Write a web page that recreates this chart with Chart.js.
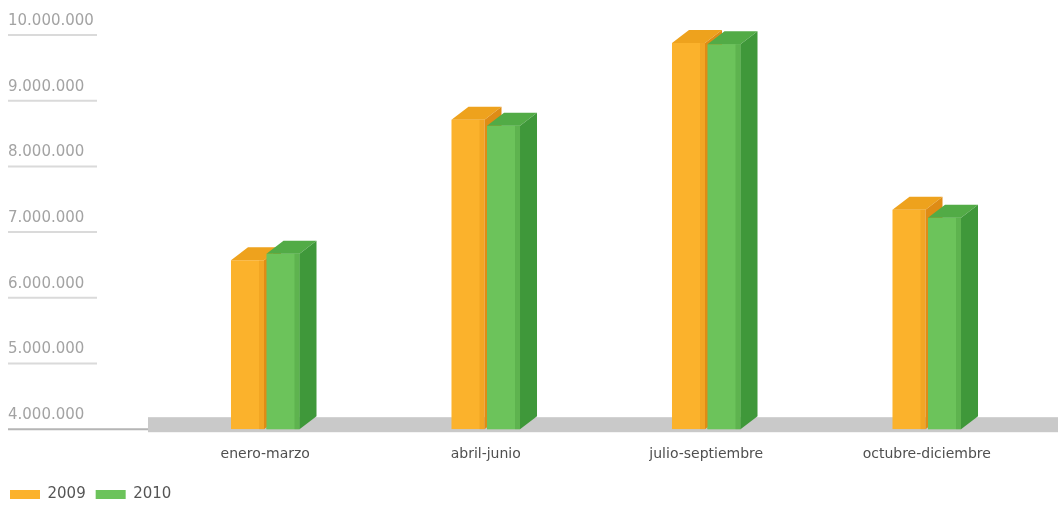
<!DOCTYPE html>
<html>
<head>
<meta charset="utf-8">
<script src="https://cdn.jsdelivr.net/npm/chart.js@4.4.0/dist/chart.umd.min.js"></script>
<style>
    html, body { margin: 0; padding: 0; background: #fff; }
    #wrap { width: 1058px; height: 507px; position: relative; }
</style>
</head>
<body>
<div id="wrap"><canvas id="chart"></canvas></div>
<script>
const categories = ['enero-marzo', 'abril-junio', 'julio-septiembre', 'octubre-diciembre'];
const seriesNames = ['2009', '2010'];
const values2009 = [6570000, 8710000, 9880000, 7340000];
const values2010 = [6670000, 8620000, 9860000, 7220000];
const yMin = 4000000;
const yMax = 10000000;
const yStep = 1000000;

// profundidad del efecto 3D
const DX = 17, DY = 13;

function fmt(v) {
    return String(v).replace(/\B(?=(\d{3})+(?!\d))/g, '.');
}

function drawFaces(ctx, ds, meta) {
    meta.data.forEach(bar => {
        const { x, y, base, width } = bar.getProps(['x', 'y', 'base', 'width'], true);
        const l = x - width / 2, r = x + width / 2;
        // sombra suave en el borde derecho del frente
        ctx.fillStyle = ds.edgeColor;
        ctx.fillRect(r - 5, y, 5, base - y);
        // cara superior
        ctx.fillStyle = ds.topColor;
        ctx.beginPath();
        ctx.moveTo(l, y);
        ctx.lineTo(l + DX, y - DY);
        ctx.lineTo(r + DX, y - DY);
        ctx.lineTo(r, y);
        ctx.closePath();
        ctx.fill();
        // cara lateral
        ctx.fillStyle = ds.sideColor;
        ctx.beginPath();
        ctx.moveTo(r, y);
        ctx.lineTo(r + DX, y - DY);
        ctx.lineTo(r + DX, base - DY);
        ctx.lineTo(r, base);
        ctx.closePath();
        ctx.fill();
    });
}

const bars3d = {
    id: 'bars3d',
    afterLayout(chart) {
        // mover las etiquetas del eje Y un poco a la derecha
        chart.scales.y.left += 8;
    },
    beforeDatasetsDraw(chart) {
        const { ctx, chartArea: a } = chart;
        const yScale = chart.scales.y;
        ctx.save();
        // suelo gris
        ctx.fillStyle = '#c9c9c9';
        ctx.fillRect(a.left - 7, a.bottom - DY + 1, chart.width - a.left + 7, DY + 2);
        // rayas bajo las etiquetas
        yScale.ticks.forEach(t => {
            const y = yScale.getPixelForValue(t.value);
            ctx.strokeStyle = t.value === yMin ? '#b5b5b5' : '#dadada';
            ctx.lineWidth = 2;
            ctx.beginPath();
            ctx.moveTo(8, y);
            ctx.lineTo(t.value === yMin ? a.left - 7 : 97, y);
            ctx.stroke();
        });
        ctx.restore();
    },
    afterDatasetsDraw(chart) {
        // dibujar de izquierda a derecha para que la barra derecha tape el lateral de la izquierda
        const ctx = chart.ctx;
        ctx.save();
        chart.data.datasets.forEach((ds, i) => {
            const meta = chart.getDatasetMeta(i);
            if (i > 0) meta.data.forEach(el => el.draw(ctx));
            drawFaces(ctx, ds, meta);
        });
        ctx.restore();
    }
};

const ctx = document.getElementById('chart').getContext('2d');
new Chart(ctx, {
    type: 'bar',
    data: {
        labels: categories,
        datasets: [{
            label: seriesNames[0],
            data: values2009,
            backgroundColor: '#fbb22c',
            topColor: '#eea21d',
            sideColor: '#df8c15',
            edgeColor: 'rgba(214,130,10,0.25)',
            borderWidth: 0,
            base: yMin,
            barPercentage: 0.93,
            categoryPercentage: 0.322
        }, {
            label: seriesNames[1],
            data: values2010,
            backgroundColor: '#6cc35b',
            topColor: '#52ab46',
            sideColor: '#3f983a',
            edgeColor: 'rgba(50,130,45,0.25)',
            borderWidth: 0,
            base: yMin,
            barPercentage: 0.93,
            categoryPercentage: 0.322
        }]
    },
    options: {
        responsive: true,
        maintainAspectRatio: false,
        animation: false,
        layout: { padding: { top: 35, right: 21, left: 0, bottom: -5 } },
        scales: {
            x: {
                afterFit(scale) { scale.height -= 3; },
                grid: { display: false, drawTicks: false },
                border: { display: false },
                ticks: { color: '#4f4f4f', padding: 17, font: { family: 'DejaVu Sans', size: 14 } }
            },
            y: {
                min: yMin,
                max: yMax,
                afterFit(scale) { scale.width = 155; },
                grid: { display: false, drawTicks: false },
                border: { display: false },
                ticks: {
                    stepSize: yStep,
                    crossAlign: 'far',
                    labelOffset: -14,
                    color: '#a3a3a3',
                    font: { family: 'DejaVu Sans', size: 15 },
                    callback: v => fmt(v)
                }
            }
        },
        plugins: {
            legend: {
                position: 'bottom',
                align: 'start',
                labels: {
                    boxWidth: 30,
                    boxHeight: 9,
                    padding: 10,
                    color: '#555',
                    font: { family: 'DejaVu Sans', size: 15 }
                }
            },
            tooltip: { enabled: false }
        }
    },
    plugins: [bars3d]
});
</script>
</body>
</html>
